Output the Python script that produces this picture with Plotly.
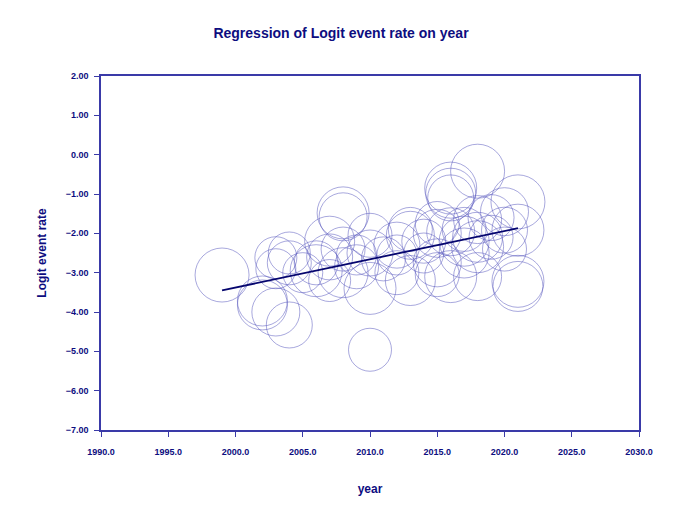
import plotly.graph_objects as go

# study-level points: year, logit event rate, relative weight (bubble size)
years = [1999, 2002, 2002, 2003, 2003, 2003, 2004, 2004, 2004, 2005,
         2006, 2006, 2007, 2007, 2007, 2008, 2008, 2008, 2008, 2009,
         2009, 2010, 2010, 2010, 2010, 2011, 2012, 2012, 2012, 2013,
         2013, 2013, 2014, 2014, 2015, 2015, 2015, 2015, 2016, 2016,
         2016, 2016, 2016, 2017, 2017, 2017, 2018, 2018, 2018, 2018,
         2018, 2019, 2019, 2020, 2020, 2020, 2021, 2021, 2021, 2021]
logit = [-3.06, -3.72, -3.82, -2.62, -4.00, -2.90, -2.50, -4.33, -2.75, -3.00,
         -2.95, -2.75, -2.20, -2.60, -3.20, -1.48, -1.58, -2.40, -3.00, -2.55,
         -2.85, -2.05, -2.50, -3.40, -4.96, -2.65, -2.30, -2.55, -3.00, -1.90,
         -2.05, -3.20, -2.20, -2.50, -1.75, -2.00, -2.75, -3.05, -0.85, -0.98,
         -1.10, -1.96, -3.10, -1.90, -2.20, -2.50, -0.42, -1.65, -2.34, -2.10,
         -3.10, -1.60, -2.10, -1.45, -1.92, -2.40, -1.20, -1.92, -3.22, -3.35]
weight = [27, 25, 25, 21, 24, 20, 21, 23, 22, 20,
          26, 22, 25, 23, 21, 26, 24, 22, 25, 20,
          22, 22, 23, 26, 21.5, 22, 23, 20, 22, 22,
          24, 25, 22, 20, 22, 24, 24, 22, 26, 25,
          23, 24, 26, 22, 25, 25, 27, 24, 26, 25,
          24, 23, 22, 24, 23, 22, 27, 26, 26, 25]

# fitted regression line
fit_years = [1999, 2021]
fit_logit = [-3.45, -1.87]

x_ticks = [1990, 1995, 2000, 2005, 2010, 2015, 2020, 2025, 2030]
y_ticks = [2, 1, 0, -1, -2, -3, -4, -5, -6, -7]

navy = "#0d0d80"
axis_col = "#3a3aa8"

fig = go.Figure()
fig.add_trace(go.Scatter(
    x=years, y=logit, mode="markers",
    marker=dict(symbol="circle-open", size=weight, sizemode="diameter", sizeref=0.5,
                color="rgba(90,90,190,0.75)", line=dict(width=1)),
    showlegend=False, hoverinfo="x+y"))
fig.add_trace(go.Scatter(
    x=fit_years, y=fit_logit, mode="lines",
    line=dict(color="#05056e", width=1.8), showlegend=False))

fig.update_layout(
    width=666, height=499,
    margin=dict(l=93, r=35, t=68, b=77),
    paper_bgcolor="white", plot_bgcolor="white",
    font=dict(family="Liberation Sans, Arial", color=navy),
    title=dict(text="<b>Regression of Logit event rate on year</b>",
               x=0.5, xanchor="center", y=0.95, yanchor="middle",
               font=dict(size=14, color=navy)),
)
fig.update_xaxes(
    range=[1990, 2030], tickvals=x_ticks,
    tickformat=".1f", showgrid=False, zeroline=False,
    showline=True, linecolor=axis_col, linewidth=1.5, mirror=True,
    ticks="outside", ticklen=5, tickcolor=axis_col, ticklabelstandoff=7,
    tickfont=dict(size=9, color=navy, weight="bold"),
    title=dict(text="<b>year</b>", font=dict(size=12, color=navy), standoff=29))
fig.update_yaxes(
    range=[-7, 2], tickvals=y_ticks, tickformat=".2f", showgrid=False, zeroline=False,
    showline=True, linecolor=axis_col, linewidth=1.5, mirror=True,
    ticks="outside", ticklen=5, tickcolor=axis_col, ticklabelstandoff=4,
    tickfont=dict(size=9, color=navy, weight="bold"),
    title=dict(text="<b>Logit event rate</b>", font=dict(size=12, color=navy), standoff=16))

fig.write_html("out.html")
